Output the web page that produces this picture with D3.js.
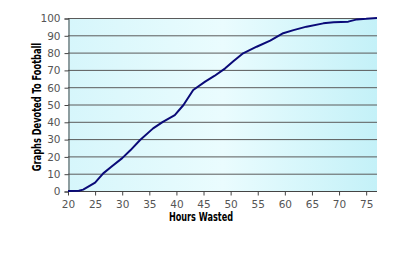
<!DOCTYPE html>
<html lang="en">
<head>
    <meta charset="UTF-8">
    <title>Hours Wasted</title>
    <script src="https://cdn.jsdelivr.net/npm/d3@7"></script>
    <style>
        body { margin: 0; background: #fff; }
    </style>
</head>
<body>
<svg width="400" height="261"></svg>
<script>
    var hours = [20, 22, 22.8, 25, 26.5, 28, 30, 31.5, 33.3, 35.7, 37.5, 39.7, 41.3, 43.1, 45.3, 47, 49, 50.5, 52.3, 54.8, 57.3, 59.7, 61.6, 64, 67.1, 69, 71.7, 73.3, 75, 77];
    var graphs = [0, 0.2, 0.8, 4.8, 10.2, 14, 19, 23.5, 29.5, 36.2, 40, 43.9, 49.7, 58.4, 63.2, 66.5, 70.9, 75, 79.6, 83.4, 86.9, 91.2, 93, 95, 96.9, 97.5, 97.9, 99.2, 99.5, 100];
    var xTicks = [20, 25, 30, 35, 40, 45, 50, 55, 60, 65, 70, 75];
    var yTicks = [0, 10, 20, 30, 40, 50, 60, 70, 80, 90, 100];

    var svg = d3.select("svg");
    var plotLeft = 68, plotRight = 377, plotTop = 18, plotBottom = 191;

    var x = d3.scaleLinear().domain([20, 77]).range([plotLeft, plotRight]);
    var y = d3.scaleLinear().domain([0, 100]).range([plotBottom, plotTop]);

    // plot background
    var grad = svg.append("defs").append("linearGradient")
        .attr("id", "bg").attr("x1", "0").attr("x2", "1").attr("y1", "0").attr("y2", "0");
    grad.append("stop").attr("offset", "0").attr("stop-color", "#d6f6fb");
    grad.append("stop").attr("offset", "0.5").attr("stop-color", "#eafcfe");
    grad.append("stop").attr("offset", "1").attr("stop-color", "#c4f1f8");

    svg.append("rect")
        .attr("x", plotLeft).attr("y", plotTop)
        .attr("width", plotRight - plotLeft).attr("height", plotBottom - plotTop)
        .attr("fill", "url(#bg)");

    // gridlines
    svg.selectAll(".grid")
        .data(yTicks.slice(1))
        .enter().append("line")
        .attr("class", "grid")
        .attr("x1", plotLeft).attr("x2", plotRight)
        .attr("y1", function (d) { return y(d) + 0.5; })
        .attr("y2", function (d) { return y(d) + 0.5; })
        .attr("stroke", "#5a5a5a").attr("stroke-width", 1);

    var yAxis = svg.append("g")
        .attr("transform", "translate(" + (plotLeft + 0.5) + ",0.5)")
        .call(d3.axisLeft(y).tickValues(yTicks).tickSize(4).tickPadding(4));
    var xAxis = svg.append("g")
        .attr("transform", "translate(0," + (plotBottom + 0.5) + ")")
        .call(d3.axisBottom(x).tickValues(xTicks).tickSize(4).tickPadding(5));
    xAxis.select(".domain").attr("d", "M" + plotLeft + ",0H" + plotRight);

    [xAxis, yAxis].forEach(function (g) {
        g.select(".domain").attr("stroke", "#444");
        g.selectAll(".tick line").attr("stroke", "#444");
        g.selectAll("text")
            .attr("font-family", "'DejaVu Sans', sans-serif")
            .attr("font-size", 10.5)
            .attr("fill", "#555");
    });

    // curve
    var line = d3.line()
        .x(function (d, i) { return x(hours[i]); })
        .y(function (d) { return y(d); });

    svg.append("path")
        .datum(graphs)
        .attr("d", line)
        .attr("fill", "none")
        .attr("stroke", "#0a0a78")
        .attr("stroke-width", 2)
        .attr("stroke-linejoin", "round");

    // titles (condensed by squeezing horizontally)
    svg.append("text")
        .attr("transform", "translate(201,221) scale(0.68,1)")
        .attr("text-anchor", "middle")
        .attr("font-family", "'DejaVu Sans', sans-serif")
        .attr("font-weight", "bold").attr("font-size", 12)
        .attr("fill", "#000")
        .text("Hours Wasted");

    svg.append("text")
        .attr("transform", "translate(41,107) rotate(-90) scale(0.66,1)")
        .attr("text-anchor", "middle")
        .attr("font-family", "'DejaVu Sans', sans-serif")
        .attr("font-weight", "bold").attr("font-size", 12.5)
        .attr("fill", "#000")
        .text("Graphs Devoted To Football");
</script>
</body>
</html>
